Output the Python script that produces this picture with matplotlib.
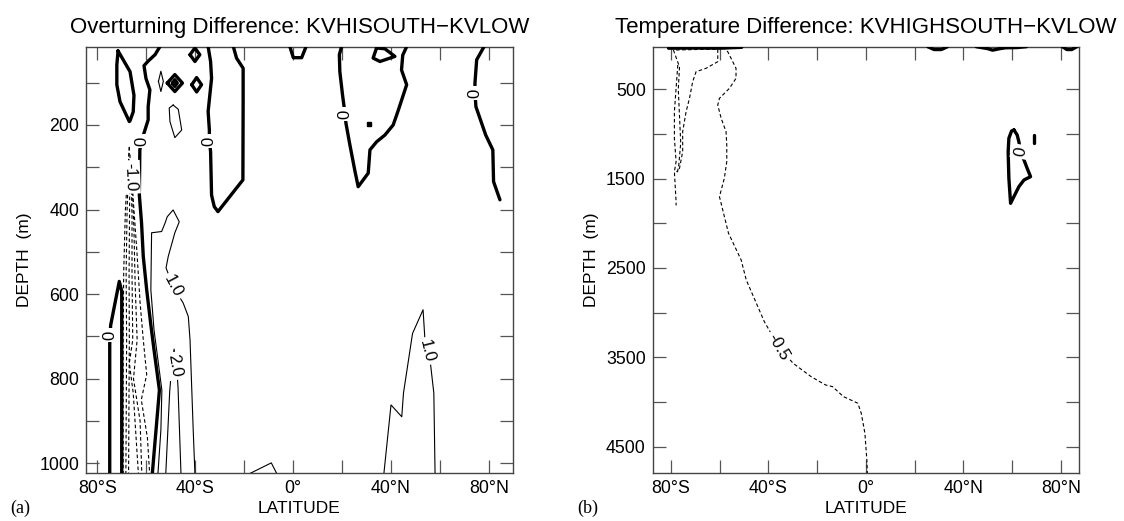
import matplotlib
matplotlib.use("Agg")
import matplotlib.pyplot as plt
from matplotlib.ticker import FuncFormatter

plt.rcParams['font.family'] = ['Liberation Sans', 'DejaVu Sans']

# ---------------- Panel (a): overturning difference (Sv) ----------------
# zero contours (thick)
a_zero1_lat = [-71.5, -66.6, -65.0, -65.3, -66.6, -66.9, -70.7, -72.0, -72.0, -71.5]
a_zero1_dep = [25, 74, 130, 169, 190, 192, 145, 105, 58, 25]

a_zero2_lat = [-54.4, -56.4, -59.2, -60.9, -60.1, -58.5, -59.2, -59.2, -60.5, -61.9, -62.6,
               -62.8, -61.9, -61.2, -59.8, -58.2, -56.8, -54.6, -57.5]
a_zero2_dep = [15, 34, 49, 60, 90, 117, 157, 188, 212, 238, 259,
               366, 432, 511, 590, 668, 732, 827, 1024]

a_zero3_lat = [-34.7, -33.7, -33.3, -34.0, -34.7, -34.2, -34.2, -33.7, -33.3, -32.2, -30.7,
               -20.5, -20.4, -20.4, -23.1, -24.4]
a_zero3_dep = [15, 50, 90, 129, 168, 212, 238, 263, 366, 393, 405,
               330, 141, 66, 42, 15]

a_zero4_lat = [-74.9, -74.9, -74.8, -74.5, -71.0, -70.0, -70.0]
a_zero4_dep = [1024, 720, 697, 673, 570, 593, 1024]

a_zero5_lat = [-1.3, 0.1, 3.5, 5.3]
a_zero5_dep = [15, 41, 41, 15]

a_zero6_lat = [19.8, 18.9, 19.1, 20.2, 20.9, 21.2, 21.6, 23.2, 25.3, 26.6, 30.7, 31.4,
               34.1, 37.5, 40.9, 43.0, 46.4, 44.3, 44.8, 46.4]
a_zero6_dep = [15, 34, 74, 129, 160, 174, 196, 247, 310, 346, 314, 259,
               240, 224, 200, 165, 105, 70, 35, 15]

a_zero7_lat = [34.1, 32.7, 35.5, 41.6, 37.5, 34.1]
a_zero7_dep = [18, 42, 50, 38, 20, 18]

a_zero8_lat = [78.0, 75.0, 74.3, 74.3, 74.7, 78.7, 81.6, 81.9, 84.5]
a_zero8_dep = [15, 46, 101, 125, 157, 224, 259, 334, 377]

# small closed cells near the surface (thick)
a_cell1_lat = [-42.1, -40.1, -38.1, -40.1, -42.1]
a_cell1_dep = [34, 18, 34, 50, 34]
a_cell2_lat = [-51.4, -48.3, -45.2, -48.3, -51.4]
a_cell2_dep = [101, 81, 101, 121, 101]
a_cell3_lat = [-49.3, -48.3, -47.3, -48.3, -49.3]
a_cell3_dep = [101, 93, 101, 109, 101]
a_cell4_lat = [-41.4, -39.4, -37.4, -39.4, -41.4]
a_cell4_dep = [105, 88, 105, 122, 105]
a_dot_lat = [31.0]
a_dot_dep = [198]

# positive contours (thin)
a_thin1_lat = [-55.0, -54.0, -53.0, -54.0, -55.0]
a_thin1_dep = [97, 73, 97, 121, 97]
a_thin2_lat = [-49.0, -46.9, -45.5, -48.3, -50.3, -50.6, -49.0]
a_thin2_dep = [153, 163, 212, 230, 192, 160, 153]

a_one_lat = [-55.2, -54.0, -53.6, -55.2, -56.8, -58.1, -57.8, -53.7, -52.3, -51.4, -49.0,
             -46.5, -48.3, -51.0, -51.9, -49.0, -44.9, -42.8, -42.1, -40.8, -40.1]
a_one_dep = [1024, 921, 827, 756, 685, 590, 455, 452, 432, 417, 401,
             429, 455, 511, 538, 582, 621, 653, 708, 921, 1024]

a_two_lat = [-52.0, -50.4, -49.4, -48.6, -47.6, -47.0, -45.8]
a_two_dep = [1024, 830, 760, 730, 770, 820, 1024]

a_oneN_lat = [37.1, 40.0, 44.4, 45.1, 48.8, 53.1, 54.0, 56.1, 57.5, 58.0]
a_oneN_dep = [1024, 862, 890, 834, 693, 637, 720, 763, 834, 1024]

a_eq_lat = [-17.6, -8.9, -6.7]
a_eq_dep = [1024, 999, 1024]

# negative contours (dashed)
a_neg1_lat = [-66.9, -68.5, -69.2, -69.4, -69.4]
a_neg1_dep = [252, 400, 550, 708, 1024]
a_neg2_lat = [-66.9, -67.8, -68.2, -68.0, -68.3]
a_neg2_dep = [252, 400, 550, 708, 1024]
a_neg3_lat = [-66.6, -66.8, -67.0, -66.9, -67.2]
a_neg3_dep = [270, 400, 550, 708, 1024]
a_neg4_lat = [-66.2, -65.8, -65.8, -65.5, -66.9, -65.3, -63.2]
a_neg4_dep = [300, 420, 550, 708, 763, 834, 1024]
a_neg5_lat = [-65.8, -65.0, -64.5, -63.7, -65.2, -62.5, -61.8]
a_neg5_dep = [330, 450, 580, 708, 800, 900, 1024]
a_neg6_lat = [-65.5, -63.8, -62.5, -61.2, -59.8, -62.0, -59.5, -58.6]
a_neg6_dep = [360, 500, 620, 708, 790, 850, 940, 1024]

# contour labels: (text, lat, depth, rotation)
a_labels = [("0", -61.9, 238, 90), ("0", -34.2, 238, 90), ("0", 21.2, 174, 90),
            ("0", 74.3, 125, 90), ("0", -74.8, 697, 90), ("-1.0", -66.5, 323, -88),
            ("1.0", -49.0, 582, -62), ("2.0", -48.4, 770, -80), ("1.0", 54.5, 735, -76)]

# ---------------- Panel (b): temperature difference (C) ----------------
b_main_lat = [-58.8, -56.7, -53.3, -53.3, -56.0, -60.1, -60.8, -59.4, -57.4, -57.1, -57.1,
              -58.1, -60.1, -56.4, -51.2, -49.1, -41.7, -35.8, -29.9, -22.5, -16.6,
              -13.7, -9.2, -3.3, -1.9, -0.4, 0.4, 0.6]
b_main_dep = [25, 79, 265, 377, 489, 601, 676, 825, 974, 1123, 1310,
              1496, 1702, 2110, 2410, 2634, 3100, 3380, 3566, 3716, 3809,
              3828, 3940, 4014, 4126, 4350, 4648, 4798]

b_neg2_lat = [-77.9, -60.8, -60.8, -65.6, -69.7, -71.1, -72.4, -73.8, -75.2, -75.2, -76.5, -77.7]
b_neg2_dep = [60, 49, 191, 265, 303, 415, 601, 751, 974, 1198, 1384, 1425]

b_neg3_lat = [-77.2, -77.9, -78.6, -78.6, -77.9, -78.6, -77.9, -77.9]
b_neg3_dep = [228, 489, 751, 1048, 1310, 1422, 1758, 1800]

b_neg4_lat = [-79.0, -76.5, -77.0, -76.5, -76.0, -76.8, -77.5]
b_neg4_dep = [60, 250, 500, 800, 1100, 1350, 1450]

b_top1_lat = [-81.0, -70.0, -60.0, -51.0]
b_top1_dep = [40, 38, 40, 30]
b_top2_lat = [25.4, 28.0, 31.0, 33.5]
b_top2_dep = [23, 55, 55, 23]
b_top3_lat = [45.3, 50.0, 52.0, 55.0, 57.4, 62.0, 65.9]
b_top3_dep = [23, 45, 62, 45, 35, 33, 23]
b_top4_lat = [80.7, 82.5, 84.5, 86.6]
b_top4_dep = [23, 55, 55, 23]

b_zero_lat = [60.8, 62.1, 62.8, 63.5, 64.9, 66.2, 67.6, 64.9, 62.8, 59.4, 58.7, 58.4, 58.7, 59.8, 60.8]
b_zero_dep = [955, 1011, 1086, 1198, 1291, 1384, 1478, 1515, 1590, 1776, 1496, 1198, 1048, 967, 955]
b_dash_lat = [69.0, 69.0]
b_dash_dep = [1011, 1104]

b_labels = [("-0.5", -35.8, 3380, -60), ("0", 63.5, 1198, 80)]

# ---------------- axis ticks ----------------
lat_ticks = [-80, -60, -40, -20, 0, 20, 40, 60, 80]
lat_ticklabels = {-80: "80°S", -40: "40°S", 0: "0°", 40: "40°N", 80: "80°N"}
a_depth_ticks = [100, 200, 300, 400, 500, 600, 700, 800, 900, 1000]
a_depth_labels = [200, 400, 600, 800, 1000]
b_depth_ticks = [500, 1000, 1500, 2000, 2500, 3000, 3500, 4000, 4500]
b_depth_labels = [500, 1500, 2500, 3500, 4500]

# ---------------- figure ----------------
fig = plt.figure(figsize=(11.24, 5.21), dpi=100)
axA = fig.add_axes([0.0765, 0.0916, 0.3796, 0.8188])
axB = fig.add_axes([0.5807, 0.0916, 0.3793, 0.8188])

THICK = 2.4
THIN = 0.8
DASH = (0, (3.2, 2.2))


def style_axes(ax, xlim, ylim, yticks, ylabels, title, letter):
    ax.set_xlim(*xlim)
    ax.set_ylim(*ylim)
    ax.set_xticks(lat_ticks)
    ax.xaxis.set_major_formatter(FuncFormatter(lambda v, p: lat_ticklabels.get(int(round(v)), "")))
    ax.set_yticks(yticks)
    ax.yaxis.set_major_formatter(FuncFormatter(lambda v, p: str(int(round(v))) if int(round(v)) in ylabels else ""))
    ax.tick_params(direction="in", length=9.5, width=0.9, color="#555555",
                   top=True, right=True, labelsize=12.8, pad=5)
    for s in ax.spines.values():
        s.set_color("#444444")
        s.set_linewidth(1.0)
    ax.set_xlabel("LATITUDE", fontsize=12.5, labelpad=3)
    ax.set_ylabel("DEPTH  (m)", fontsize=12.5, labelpad=5)
    ax.set_title(title, fontsize=16, pad=10)
    ax.text(-0.177, -0.082, letter, transform=ax.transAxes, fontsize=13,
            family=['Liberation Serif', 'DejaVu Serif'], ha="left", va="center")


def thick(ax, x, y):
    ax.plot(x, y, color="black", lw=THICK, solid_joinstyle="round", solid_capstyle="round", zorder=3)


def thin(ax, x, y):
    ax.plot(x, y, color="black", lw=THIN, zorder=3)


def dashed(ax, x, y):
    ax.plot(x, y, color="black", lw=THIN, linestyle=DASH, zorder=3)


def clabel(ax, items):
    for txt, x, y, rot in items:
        ax.text(x, y, txt, rotation=rot, ha="center", va="center", fontsize=12, zorder=5,
                bbox=dict(boxstyle="square,pad=0.15", fc="white", ec="none"))


# panel (a)
for x, y in [(a_zero1_lat, a_zero1_dep), (a_zero2_lat, a_zero2_dep), (a_zero3_lat, a_zero3_dep),
             (a_zero4_lat, a_zero4_dep), (a_zero5_lat, a_zero5_dep), (a_zero6_lat, a_zero6_dep),
             (a_zero7_lat, a_zero7_dep), (a_zero8_lat, a_zero8_dep), (a_cell1_lat, a_cell1_dep),
             (a_cell2_lat, a_cell2_dep), (a_cell3_lat, a_cell3_dep), (a_cell4_lat, a_cell4_dep)]:
    thick(axA, x, y)
axA.plot(a_dot_lat, a_dot_dep, "s", color="black", ms=2.5, zorder=3)
for x, y in [(a_thin1_lat, a_thin1_dep), (a_thin2_lat, a_thin2_dep), (a_one_lat, a_one_dep),
             (a_two_lat, a_two_dep), (a_oneN_lat, a_oneN_dep), (a_eq_lat, a_eq_dep)]:
    thin(axA, x, y)
for x, y in [(a_neg1_lat, a_neg1_dep), (a_neg2_lat, a_neg2_dep), (a_neg3_lat, a_neg3_dep),
             (a_neg4_lat, a_neg4_dep), (a_neg5_lat, a_neg5_dep), (a_neg6_lat, a_neg6_dep)]:
    dashed(axA, x, y)
clabel(axA, a_labels)
style_axes(axA, (-84.6, 89.7), (1023.6, 15), a_depth_ticks, a_depth_labels,
           "Overturning Difference: KVHISOUTH\u2212KVLOW", "(a)")

# panel (b)
for x, y in [(b_main_lat, b_main_dep), (b_neg2_lat, b_neg2_dep), (b_neg3_lat, b_neg3_dep),
             (b_neg4_lat, b_neg4_dep)]:
    dashed(axB, x, y)
for x, y in [(b_top1_lat, b_top1_dep), (b_top2_lat, b_top2_dep), (b_top3_lat, b_top3_dep),
             (b_top4_lat, b_top4_dep), (b_zero_lat, b_zero_dep), (b_dash_lat, b_dash_dep)]:
    thick(axB, x, y)
clabel(axB, b_labels)
style_axes(axB, (-87.5, 87.5), (4798, 23), b_depth_ticks, b_depth_labels,
           "Temperature Difference: KVHIGHSOUTH\u2212KVLOW", "(b)")

fig.savefig("out.png", dpi=100)
